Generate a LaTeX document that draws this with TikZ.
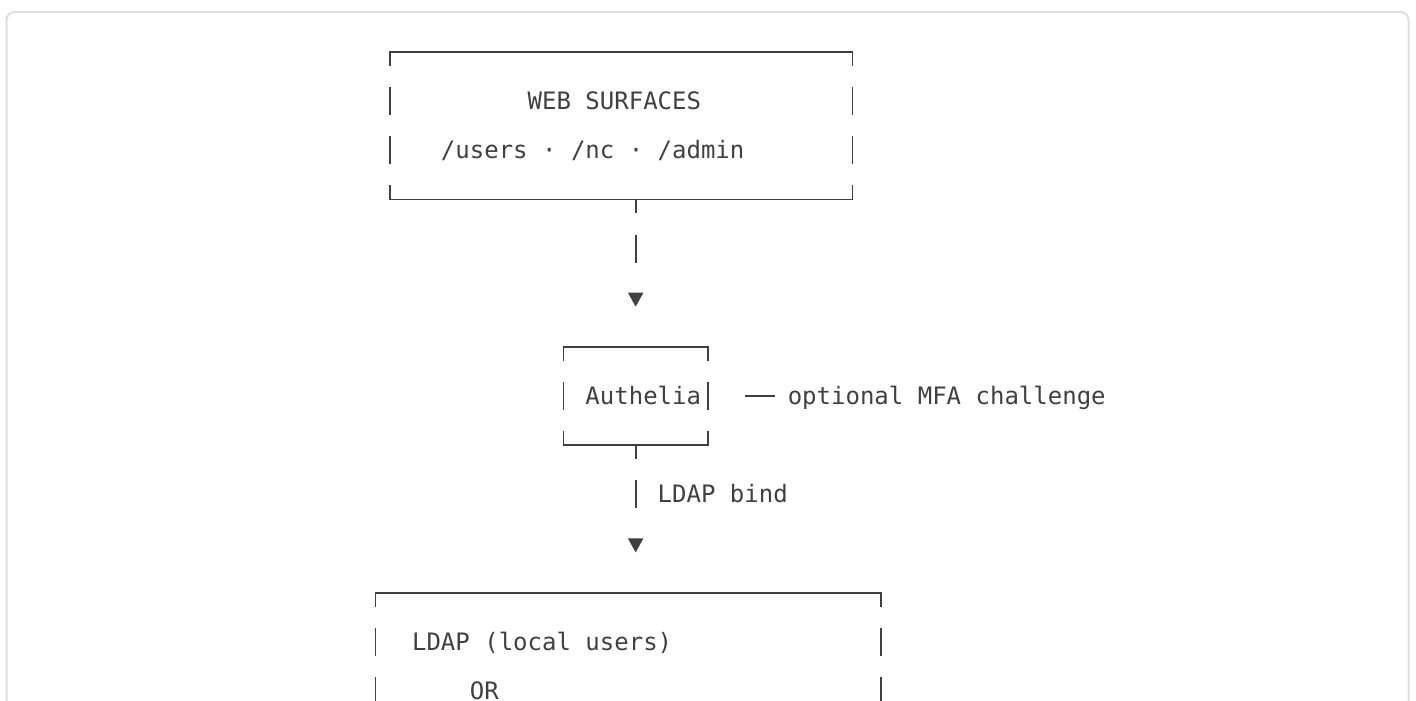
\documentclass[tikz,border=0pt]{standalone}
\usepackage{fontspec}
\setmonofont{DejaVu Sans Mono}
\usetikzlibrary{arrows.meta,calc}
\definecolor{ink}{HTML}{404040}
\definecolor{rim}{HTML}{DEDEDE}
% top, bottom and broken sides of a box node
\newcommand{\asciibox}[1]{%
  \draw[hrule] (#1.north west) -- (#1.north east);
  \draw[hrule] (#1.south west) -- (#1.south east);
  \draw[vrule] (#1.north west) -- (#1.south west);
  \draw[vrule] (#1.north east) -- (#1.south east);}

\begin{document}
\begin{tikzpicture}[x=0.5pt,y=-0.5pt,
    txt/.style={font=\ttfamily\fontsize{12pt}{14pt}\selectfont, text=ink, inner sep=0pt, anchor=base west},
    hrule/.style={draw=ink, line width=0.9pt, line cap=rect},
    vrule/.style={draw=ink, line width=0.9pt, dash pattern=on 14pt off 10.575pt, dash phase=7pt},
    boxarea/.style={rectangle, draw=none, inner sep=0pt, outer sep=0pt},
    link/.style={draw=ink, line width=0.9pt, dash pattern=on 7pt off 10.575pt on 14pt off 40pt,
                 shorten >=20.1pt, -{Triangle[length=7pt,width=7.5pt]}}]
    \clip (0,0) rectangle (1416,700);
    \draw[rim, line width=1pt, rounded corners=4pt] (6.5,12) rectangle (1408.5,760);

    % boxes
    \node[boxarea, minimum width=231.2pt, minimum height=73.725pt] (web) at (621.2,125.725) {};
    \node[boxarea, minimum width=72.25pt, minimum height=49.15pt] (auth) at (635.65,396.05) {};
    \node[boxarea, minimum width=252.875pt, minimum height=122.875pt] (ldap) at (628.425,715.525) {};
    \asciibox{web}
    \asciibox{auth}
    \draw[hrule] (ldap.north west) -- (ldap.north east);
    \draw[vrule] (ldap.north west) -- (ldap.south west);
    \draw[vrule] (ldap.north east) -- (ldap.south east);

    % texts
    \node[txt] (webtitle) at (527.275,109.45) {WEB SURFACES};
    \node[txt] (webpaths) at (440.575,158.6) {/users · /nc · /admin};
    \node[txt] (authname) at (585.075,404.35) {Authelia};
    \node[txt] (mfa) at (787.375,404.35) {optional MFA challenge};
    \node[txt] (bind) at (657.325,502.65) {LDAP bind};
    \node[txt] (ldaplocal) at (411.675,650.1) {LDAP (local users)};
    \node[txt] (orword) at (469.475,699.25) {OR};

    % connectors
    \draw[link] (web.south -| auth.north) -- (auth.north);
    \draw[link] (auth.south) -- (auth.south |- ldap.north);
    \coordinate (mfatail) at (745.9,396.05);
    \draw[hrule] (mfatail) -- ($(mfa.base west |- mfatail)+(-13.5,0)$);
\end{tikzpicture}
\end{document}
